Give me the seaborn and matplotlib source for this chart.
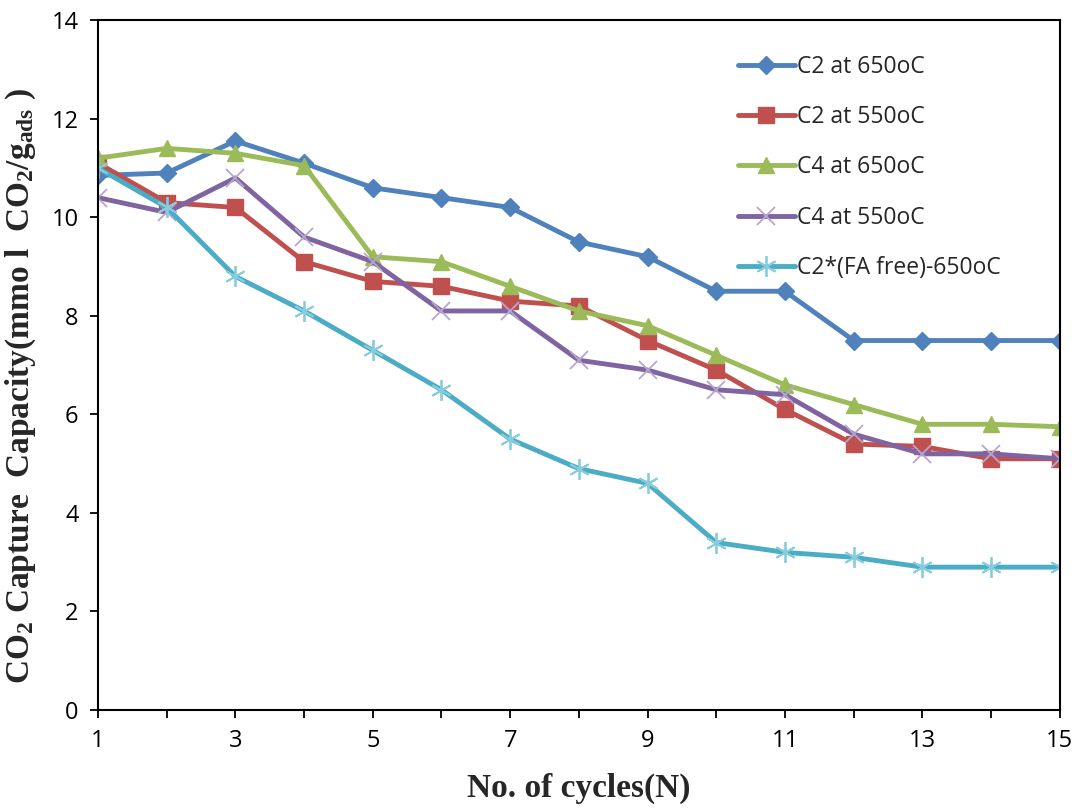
import numpy as np
import pandas as pd
import matplotlib
matplotlib.use("Agg")
import matplotlib.pyplot as plt
import seaborn as sns

cycles = list(range(1, 16))
c2_650 = [10.85, 10.9, 11.55, 11.1, 10.6, 10.4, 10.2, 9.5, 9.2, 8.5, 8.5, 7.5, 7.5, 7.5, 7.5]
c2_550 = [11.1, 10.3, 10.2, 9.1, 8.7, 8.6, 8.3, 8.2, 7.5, 6.9, 6.1, 5.4, 5.35, 5.1, 5.1]
c4_650 = [11.2, 11.4, 11.3, 11.05, 9.2, 9.1, 8.6, 8.1, 7.8, 7.2, 6.6, 6.2, 5.8, 5.8, 5.75]
c4_550 = [10.4, 10.1, 10.8, 9.6, 9.1, 8.1, 8.1, 7.1, 6.9, 6.5, 6.4, 5.6, 5.2, 5.2, 5.1]
c2_fa = [11.0, 10.2, 8.8, 8.1, 7.3, 6.5, 5.5, 4.9, 4.6, 3.4, 3.2, 3.1, 2.9, 2.9, 2.9]

labels = ["C2 at 650oC", "C2 at 550oC", "C4 at 650oC", "C4 at 550oC", "C2*(FA free)-650oC"]
series = [c2_650, c2_550, c4_650, c4_550, c2_fa]

sns.set_theme(style="white")
plt.rcParams['font.family'] = ['Open Sans', 'DejaVu Sans']
plt.rcParams['mathtext.default'] = 'regular'

fig = plt.figure(figsize=(10.77, 8.11), dpi=100)
ax = fig.add_axes([0.091, 0.1245, 0.893, 0.8505])

colors = ["#4F81BD", "#C0504D", "#9BBB59", "#8064A2", "#4BACC6"]
marker_face = ["#4F81BD", "#C0504D", "#9BBB59", "#B7A6CF", "#86CCDD"]
markers = ["D", "s", "^", "x", (6, 2, 0)]
msizes = [9, 12, 12, 13, 15]
mews = [1, 1, 1, 1.3, 1.3]

for lab, ys, col, mf, mk, ms, mw in zip(labels, series, colors, marker_face, markers, msizes, mews):
    df = pd.DataFrame({"N": cycles, "v": ys})
    sns.lineplot(data=df, x="N", y="v", ax=ax, color=col, linewidth=3.5,
                 marker=mk, markersize=ms, markerfacecolor=mf, markeredgecolor=mf,
                 markeredgewidth=mw, label=lab)

ax.set_xlim(1, 15)
ax.set_ylim(0, 14)
ax.set_xticks(range(1, 16))
ax.set_xticklabels([str(i) if i % 2 == 1 else "" for i in range(1, 16)])
ax.set_yticks(range(0, 15, 2))
ax.tick_params(axis='both', direction='out', length=6, width=1.3, colors='black',
               labelsize=17, pad=8, bottom=True, left=True)
for s in ax.spines.values():
    s.set_color('black')
    s.set_linewidth(1.5)

ax.set_xlabel("No. of cycles(N)", fontsize=24, fontweight='bold',
              family='Liberation Serif', labelpad=14)
ax.set_ylabel("CO$_2$ Capture  Capacity(mmo l  CO$_2$/g$_{ads}$ )", fontsize=24,
              fontweight='bold', family='Liberation Serif')
ax.yaxis.set_label_coords(-0.062, 0.47)

leg = ax.legend(loc='upper left', bbox_to_anchor=(0.665, 0.95), frameon=False,
                fontsize=16.5, handlelength=2.5, handletextpad=0.1,
                labelspacing=1.15, borderaxespad=0, borderpad=0)

fig.savefig("out.png", dpi=100)
